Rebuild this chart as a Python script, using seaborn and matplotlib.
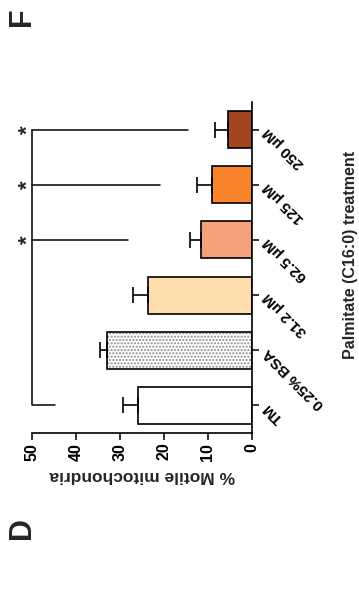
import matplotlib
matplotlib.use("Agg")
import matplotlib.pyplot as plt
from matplotlib.patches import Rectangle
import seaborn as sns
import pandas as pd
import numpy as np

categories = ["TM", "0.25% BSA", "31.2 µM", "62.5 µM", "125 µM", "250 µM"]
motile = [25.9, 33.0, 23.6, 11.6, 9.1, 5.45]
sem = [3.4, 1.5, 3.4, 2.5, 3.4, 3.0]
colors = ["#ffffff", "#ffffff", "#fddcae", "#f4a07b", "#f7842a", "#a2461f"]
value_ticks = [0, 10, 20, 30, 40, 50]
sig_groups = ["62.5 µM", "125 µM", "250 µM"]
sig_bracket_end = [28.2, 20.9, 14.5]
control_bracket_end = 44.8
bracket_top = 50

sns.set_theme(style="white")
plt.rcParams["font.family"] = ["Liberation Sans", "DejaVu Sans"]
plt.rcParams["font.weight"] = "bold"

W, H = 359, 613
fig = plt.figure(figsize=(W / 100, H / 100), dpi=100)
ax = fig.add_axes([32 / W, (H - 433) / H, 220 / W, 331 / H])

df = pd.DataFrame({"cat": categories, "val": motile})
sns.barplot(data=df, x="val", y="cat", hue="cat", order=categories,
            palette=colors, orient="h", width=0.67, edgecolor="black",
            linewidth=1.2, errorbar=None, legend=False, saturation=1, ax=ax)

pos = np.arange(len(categories))
# BSA dotted pattern
bsa = ax.patches[1]
bsa.set_hatch(".....")
bsa.set_edgecolor("#8a8a8a")
bsa.set_linewidth(0)
ax.add_patch(Rectangle(bsa.get_xy(), bsa.get_width(), bsa.get_height(),
                       fill=False, ec="black", lw=1.2, zorder=bsa.get_zorder() + 0.1))

ax.errorbar(x=motile, y=pos, xerr=[np.zeros(len(sem)), sem], fmt="none",
            ecolor="black", elinewidth=1.2, capsize=5.5, capthick=1.2, zorder=1)

ax.set_xlim(50, 0)
ax.set_ylim(-0.5, len(categories) - 0.5)
ax.set_xticks(value_ticks)
ax.set_xticklabels([str(v) for v in value_ticks], rotation=90, fontsize=11.5,
                   fontweight="bold")
ax.set_yticks(pos)
ax.yaxis.tick_right()
ax.set_yticklabels(categories, rotation=135, ha="right", va="center",
                   rotation_mode="anchor", fontsize=11, fontweight="bold")
ax.tick_params(axis="x", direction="out", length=5, width=1.1, pad=2,
               bottom=True, colors="black")
ax.tick_params(axis="y", direction="out", length=5, width=1.1, pad=5,
               right=True, left=False, colors="black")
for s in ["left", "top"]:
    ax.spines[s].set_visible(False)
for s in ["right", "bottom"]:
    ax.spines[s].set_linewidth(1.2)
    ax.spines[s].set_color("black")
ax.set_ylabel("")
ax.set_xlabel("% Motile mitochondria", rotation=180, fontsize=12.5,
              fontweight="bold", labelpad=5)

# significance brackets
ax.plot([control_bracket_end, bracket_top, bracket_top],
        [0, 0, categories.index(sig_groups[-1])], color="black", lw=1.1,
        clip_on=False)
for g, e in zip(sig_groups, sig_bracket_end):
    i = categories.index(g)
    ax.plot([bracket_top, e], [i, i], color="black", lw=1.1, clip_on=False)
    ax.text(bracket_top + 0.8, i, "*", rotation=90, ha="center", va="center",
            fontsize=16, fontweight="bold", clip_on=False)

fig.text(350 / W, 1 - 255 / H, "Palmitate (C16:0) treatment", rotation=90,
         ha="center", va="center", fontsize=11.5, fontweight="bold")
fig.text(22 / W, 1 - 17 / H, "F", rotation=90, ha="center", va="center",
         fontsize=22, fontweight="bold")
fig.text(22 / W, 1 - 528 / H, "D", rotation=90, ha="center", va="center",
         fontsize=22, fontweight="bold")

fig.savefig("out.png", dpi=100)
